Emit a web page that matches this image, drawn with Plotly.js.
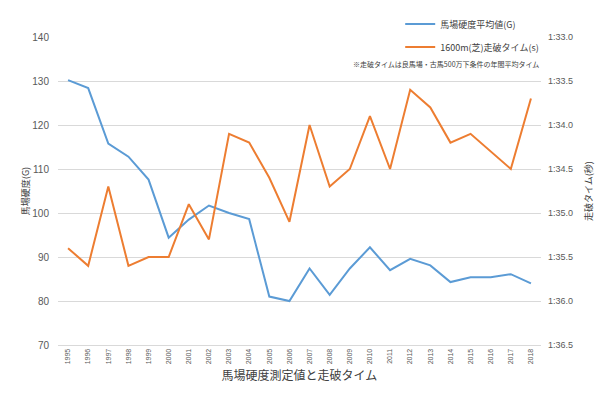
<!DOCTYPE html>
<html><head><meta charset="utf-8">
<script src="https://cdn.plot.ly/plotly-3.0.1.min.js"></script>
<style>html,body{margin:0;padding:0;background:#fff}#chart{width:600px;height:400px}</style>
</head><body><div id="chart"></div>
<script>
const years = ["1995","1996","1997","1998","1999","2000","2001","2002","2003","2004","2005","2006","2007","2008","2009","2010","2011","2012","2013","2014","2015","2016","2017","2018"];
const hardness = [130.2,128.4,115.8,112.8,107.6,94.4,98.5,101.7,100.0,98.6,81.0,80.0,87.4,81.4,87.4,92.2,87.0,89.6,88.1,84.3,85.4,85.4,86.1,84.0];
const timeSec = [95.4,95.6,94.7,95.6,95.5,95.5,94.9,95.3,94.1,94.2,94.6,95.1,94.0,94.7,94.5,93.9,94.5,93.6,93.8,94.2,94.1,94.3,94.5,93.7];
const rightTickVals = [93.0,93.5,94.0,94.5,95.0,95.5,96.0,96.5];
const rightTickText = ["1:33.0","1:33.5","1:34.0","1:34.5","1:35.0","1:35.5","1:36.0","1:36.5"];
const leftTickVals = [70,80,90,100,110,120,130,140];

const font = "'Liberation Sans', 'Noto Sans CJK JP', sans-serif";
const jfont = "'Noto Sans CJK JP', sans-serif";
const grey = "#595959";

const traces = [
  {x: years, y: hardness, type: 'scatter', mode: 'lines', name: '馬場硬度平均値(G)',
   line: {color: '#5B9BD5', width: 2}, yaxis: 'y', legend: 'legend'},
  {x: years, y: timeSec, type: 'scatter', mode: 'lines', name: '1600m(芝)走破タイム(s)',
   line: {color: '#ED7D31', width: 2}, yaxis: 'y2', legend: 'legend2'}
];

const layout = {
  width: 600, height: 400,
  margin: {l: 58, r: 59, t: 37, b: 55, autoexpand: false},
  paper_bgcolor: '#fff', plot_bgcolor: '#fff',
  font: {family: font, color: grey},
  showlegend: true,
  legend: {xref: 'container', yref: 'container', x: 0.667, xanchor: 'left', y: 0.94, yanchor: 'middle', bgcolor: 'rgba(0,0,0,0)',
           font: {family: jfont, size: 9, color: '#404040'}, itemwidth: 30},
  legend2: {xref: 'container', yref: 'container', x: 0.667, xanchor: 'left', y: 0.8825, yanchor: 'middle', bgcolor: 'rgba(0,0,0,0)',
           font: {family: jfont, size: 9, color: '#404040'}, itemwidth: 30},
  xaxis: {type: 'category', range: [-0.5, 23.5], autorange: false, tickangle: -90, tickfont: {size: 7, color: grey},
          showgrid: false, showline: true, linecolor: '#d9d9d9', linewidth: 1, ticks: '',
          title: {text: '馬場硬度測定値と走破タイム', font: {family: jfont, size: 12, color: '#404040'}, standoff: 8}},
  yaxis: {range: [70, 140], autorange: false, tickvals: leftTickVals, showgrid: true, gridcolor: '#d9d9d9', gridwidth: 1,
          zeroline: false, tickfont: {size: 10, color: grey}, ticks: '', ticklabelstandoff: 8,
          title: {text: '馬場硬度(G)', font: {family: jfont, size: 9, color: '#404040'}, standoff: 1}},
  yaxis2: {overlaying: 'y', side: 'right', range: [96.5, 93.0], autorange: false,
           tickvals: rightTickVals, ticktext: rightTickText, showgrid: false, zeroline: false,
           tickfont: {size: 9, color: grey}, ticks: '', ticklabelstandoff: 6},
  annotations: [
    {xref: 'paper', yref: 'paper', x: 1.0, y: 1.0, xanchor: 'right', yanchor: 'top',
     text: '※走破タイムは良馬場・古馬500万下条件の年間平均タイム', showarrow: false,
     font: {family: jfont, size: 7, color: '#404040'}, yshift: -20},
    {xref: 'paper', yref: 'paper', x: 1.0973, y: 0.5, xanchor: 'center', yanchor: 'middle',
     text: '走破タイム(秒)', textangle: -90, showarrow: false,
     font: {family: jfont, size: 9, color: '#404040'}}
  ]
};
Plotly.newPlot('chart', traces, layout, {displayModeBar: false, staticPlot: true});
</script></body></html>
